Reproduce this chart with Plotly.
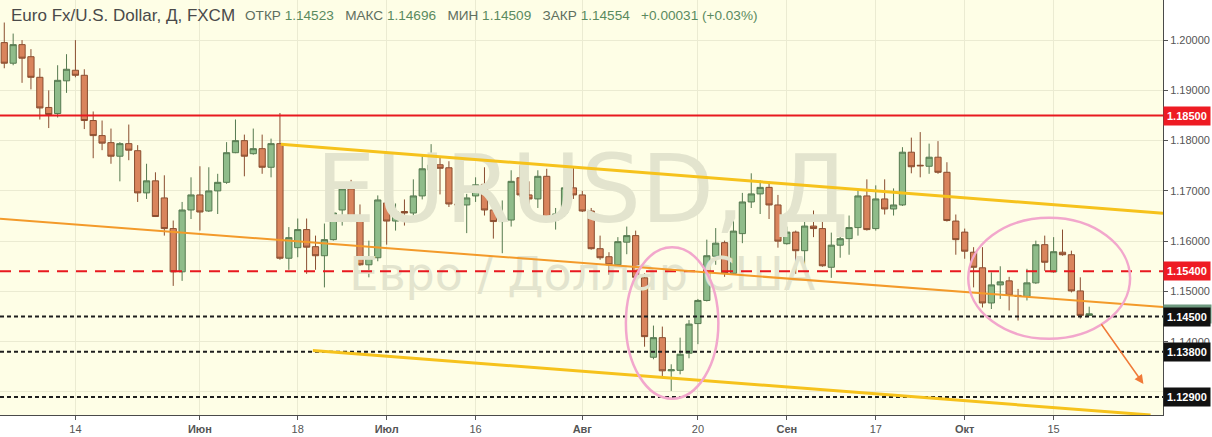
import plotly.graph_objects as go
import pandas as pd

# ---- data (EUR/USD daily, FXCM) ----
dates = [d.strftime("%Y-%m-%d") for d in pd.bdate_range("2018-05-02", "2018-10-19")]

opens = [1.1995, 1.1954, 1.1991, 1.1967, 1.1926, 1.1866, 1.1854, 1.1919, 1.1940, 1.1930,
         1.1840, 1.1810, 1.1796, 1.1769, 1.1794, 1.1780, 1.1696, 1.1720, 1.1686, 1.1625,
         1.1539, 1.1662, 1.1692, 1.1660, 1.1700, 1.1717, 1.1776, 1.1800, 1.1774, 1.1784,
         1.1747, 1.1794, 1.1566, 1.1587, 1.1623, 1.1589, 1.1571, 1.1603, 1.1662, 1.1704,
         1.1646, 1.1553, 1.1567, 1.1676, 1.1640, 1.1659, 1.1656, 1.1690, 1.1741, 1.1752,
         1.1746, 1.1674, 1.1672, 1.1690, 1.1713, 1.1662, 1.1639, 1.1642, 1.1726, 1.1692,
         1.1684, 1.1729, 1.1642, 1.1656, 1.1706, 1.1692, 1.1660, 1.1585, 1.1569, 1.1553,
         1.1598, 1.1611, 1.1527, 1.1369, 1.1408, 1.1342, 1.1343, 1.1377, 1.1436, 1.1482,
         1.1570, 1.1597, 1.1536, 1.1615, 1.1678, 1.1694, 1.1707, 1.1672, 1.1595, 1.1618,
         1.1581, 1.1630, 1.1625, 1.1548, 1.1592, 1.1605, 1.1627, 1.1690, 1.1625, 1.1684,
         1.1664, 1.1672, 1.1777, 1.1751, 1.1749, 1.1767, 1.1737, 1.1640, 1.1618, 1.1578,
         1.1547, 1.1477, 1.1513, 1.1521, 1.1492, 1.1490, 1.1517, 1.1593, 1.1539, 1.1578,
         1.1573, 1.1501, 1.14523]
highs = [1.2035, 1.2013, 1.2000, 1.1982, 1.1944, 1.1900, 1.1950, 1.1972, 1.2000, 1.1942,
         1.1858, 1.1840, 1.1824, 1.1797, 1.1832, 1.1791, 1.1754, 1.1737, 1.1731, 1.1641,
         1.1678, 1.1727, 1.1749, 1.1747, 1.1734, 1.1797, 1.1842, 1.1812, 1.1824, 1.1812,
         1.1804, 1.1855, 1.1628, 1.1645, 1.1645, 1.1611, 1.1635, 1.1678, 1.1715, 1.1722,
         1.1673, 1.1601, 1.1691, 1.1691, 1.1675, 1.1683, 1.1723, 1.1771, 1.1793, 1.1766,
         1.1759, 1.1697, 1.1694, 1.1727, 1.1747, 1.1668, 1.1681, 1.1741, 1.1751, 1.1719,
         1.1741, 1.1744, 1.1666, 1.1721, 1.1747, 1.1700, 1.1666, 1.1611, 1.1578, 1.1608,
         1.1629, 1.1621, 1.1536, 1.1432, 1.1430, 1.1355, 1.1408, 1.1443, 1.1485, 1.1603,
         1.1626, 1.1601, 1.1641, 1.1696, 1.1735, 1.1721, 1.1719, 1.1692, 1.1629, 1.1621,
         1.1641, 1.1661, 1.1649, 1.1617, 1.1646, 1.1651, 1.1701, 1.1723, 1.1711, 1.1723,
         1.1705, 1.1787, 1.1806, 1.1817, 1.1794, 1.1799, 1.1757, 1.1653, 1.1625, 1.1588,
         1.1588, 1.1538, 1.1550, 1.1529, 1.1505, 1.1545, 1.1601, 1.1611, 1.1608, 1.1623,
         1.1581, 1.1528, 1.14696]
lows = [1.1944, 1.1950, 1.1915, 1.1902, 1.1842, 1.1825, 1.1846, 1.1895, 1.1926, 1.1823,
        1.1765, 1.1781, 1.1754, 1.1719, 1.1761, 1.1678, 1.1684, 1.1648, 1.1611, 1.1511,
        1.1521, 1.1644, 1.1621, 1.1658, 1.1654, 1.1714, 1.1775, 1.1729, 1.1772, 1.1734,
        1.1727, 1.1563, 1.1543, 1.1568, 1.1535, 1.1543, 1.1508, 1.1601, 1.1631, 1.1638,
        1.1551, 1.1528, 1.1560, 1.1593, 1.1621, 1.1631, 1.1651, 1.1683, 1.1735, 1.1693,
        1.1668, 1.1651, 1.1616, 1.1678, 1.1651, 1.1605, 1.1576, 1.1629, 1.1688, 1.1658,
        1.1666, 1.1640, 1.1623, 1.1649, 1.1684, 1.1658, 1.1583, 1.1563, 1.1533, 1.1551,
        1.1574, 1.1526, 1.1390, 1.1365, 1.1330, 1.1302, 1.1335, 1.1367, 1.1395, 1.1480,
        1.1553, 1.1529, 1.1534, 1.1596, 1.1666, 1.1654, 1.1644, 1.1587, 1.1593, 1.1535,
        1.1548, 1.1608, 1.1549, 1.1527, 1.1567, 1.1573, 1.1611, 1.1621, 1.1621, 1.1653,
        1.1651, 1.1670, 1.1735, 1.1727, 1.1734, 1.1734, 1.1639, 1.1573, 1.1565, 1.1508,
        1.1468, 1.1465, 1.1485, 1.1462, 1.1442, 1.1482, 1.1515, 1.1541, 1.1537, 1.1571,
        1.1498, 1.1446, 1.14509]
closes = [1.1954, 1.1991, 1.1964, 1.1926, 1.1865, 1.1852, 1.1920, 1.1942, 1.1930, 1.1840,
          1.1810, 1.1795, 1.1769, 1.1794, 1.1781, 1.1696, 1.1720, 1.1649, 1.1625, 1.1539,
          1.1662, 1.1692, 1.1658, 1.1700, 1.1717, 1.1776, 1.1800, 1.1769, 1.1784, 1.1747,
          1.1794, 1.1566, 1.1607, 1.1623, 1.1588, 1.1571, 1.1603, 1.1656, 1.1704, 1.1646,
          1.1553, 1.1567, 1.1682, 1.1640, 1.1658, 1.1656, 1.1690, 1.1744, 1.1752, 1.1745,
          1.1674, 1.1672, 1.1686, 1.1712, 1.1662, 1.1639, 1.1642, 1.1719, 1.1692, 1.1684,
          1.1729, 1.1642, 1.1654, 1.1706, 1.1692, 1.1660, 1.1585, 1.1567, 1.1553, 1.1599,
          1.1611, 1.1528, 1.1410, 1.1408, 1.1342, 1.1344, 1.1375, 1.1435, 1.1482, 1.1571,
          1.1596, 1.1536, 1.1620, 1.1678, 1.1694, 1.1707, 1.1672, 1.1600, 1.1618, 1.1581,
          1.1630, 1.1625, 1.1551, 1.1592, 1.1605, 1.1627, 1.1690, 1.1623, 1.1684, 1.1664,
          1.1672, 1.1777, 1.1748, 1.1750, 1.1767, 1.1737, 1.1641, 1.1603, 1.1580, 1.1548,
          1.1477, 1.1513, 1.1519, 1.1492, 1.1490, 1.1517, 1.1593, 1.1558, 1.1579, 1.1573,
          1.1501, 1.14523, 1.14554]

# x-axis tick labels (category index -> label)
tick_idx = [8, 22, 33, 43, 53, 65, 78, 88, 98, 108, 118]
tick_labels = ["14", "<b>Июн</b>", "18", "<b>Июл</b>", "16", "<b>Авг</b>",
               "20", "<b>Сен</b>", "17", "<b>Окт</b>", "15"]

# y-axis ticks
y_ticks = [1.13, 1.14, 1.15, 1.16, 1.17, 1.18, 1.19, 1.20]

# horizontal levels
level_red_solid = 1.185
level_red_dash = 1.154
levels_black = [1.145, 1.138, 1.129]

# trend lines: (x index, price) pairs
orange_line = [(-0.48, 1.16444), (130.3, 1.14689)]
gold_upper = [(31.1, 1.17926), (130.3, 1.16556)]
gold_lower = [(34.7, 1.13825), (128.9, 1.12541)]
ellipses = [((69.9, 80.3), (1.12866, 1.15878)), ((108.4, 126.6), (1.14057, 1.16464))]
arrow = ((123.25, 1.14376), (128.1, 1.13159))

# watermark positions (price level of each text line)
wm_big_y = 1.1686
wm_small_y = 1.1526

last_price = 1.14554

X_RANGE = [-0.48, 130.3]
Y_RANGE = [1.12541, 1.20798]

fig = go.Figure()

# watermark (drawn below candles)
fig.add_trace(go.Scatter(
    x=[dates[65], dates[65]], y=[wm_big_y, wm_small_y], mode="text",
    text=["EURUSD, Д", "Евро / Доллар США"],
    textfont=dict(family="DejaVu Sans", size=[95, 46], color="#e3e4ce"),
    hoverinfo="skip", showlegend=False))

fig.add_trace(go.Candlestick(
    x=dates, open=opens, high=highs, low=lows, close=closes,
    increasing=dict(fillcolor="#8fbc8a", line=dict(color="#567a50", width=1)),
    decreasing=dict(fillcolor="#d9845c", line=dict(color="#8a4e30", width=1)),
    whiskerwidth=0, hoverinfo="skip", showlegend=False))

shapes = []
shapes.append(dict(type="line", xref="paper", x0=0, x1=1, yref="y",
                   y0=level_red_solid, y1=level_red_solid,
                   line=dict(color="#e8191f", width=2), layer="above"))
shapes.append(dict(type="line", xref="paper", x0=0, x1=1, yref="y",
                   y0=level_red_dash, y1=level_red_dash,
                   line=dict(color="#e8191f", width=2, dash="11px,8px"), layer="above"))
for lv in levels_black:
    shapes.append(dict(type="line", xref="paper", x0=0, x1=1, yref="y", y0=lv, y1=lv,
                       line=dict(color="#1e1e1e", width=2, dash="4px,3px"), layer="above"))
shapes.append(dict(type="line", xref="x", yref="y",
                   x0=orange_line[0][0], y0=orange_line[0][1],
                   x1=orange_line[1][0], y1=orange_line[1][1],
                   line=dict(color="#f39a2a", width=2), layer="above"))
for ln in (gold_upper, gold_lower):
    shapes.append(dict(type="line", xref="x", yref="y",
                       x0=ln[0][0], y0=ln[0][1], x1=ln[1][0], y1=ln[1][1],
                       line=dict(color="#f6c21c", width=3), layer="above"))
for (xs, ys) in ellipses:
    shapes.append(dict(type="circle", xref="x", yref="y",
                       x0=xs[0], x1=xs[1], y0=ys[0], y1=ys[1],
                       line=dict(color="#f2a7cc", width=2.5), layer="above"))

annotations = []
# header
annotations.append(dict(xref="paper", yref="paper", x=9 / 1163, y=1 - 16 / 415,
                        xanchor="left", yanchor="middle", showarrow=False,
                        text="Euro Fx/U.S. Dollar, Д, FXCM",
                        font=dict(family="Liberation Sans", size=17, color="#4a4a4a")))
val_c = "#5a8a5f"
lab_c = "#5f6f5f"
hdr = (f"<span style='color:{lab_c}'>ОТКР</span> <span style='color:{val_c}'>1.14523</span>"
       f"   <span style='color:{lab_c}'>МАКС</span> <span style='color:{val_c}'>1.14696</span>"
       f"   <span style='color:{lab_c}'>МИН</span> <span style='color:{val_c}'>1.14509</span>"
       f"   <span style='color:{lab_c}'>ЗАКР</span> <span style='color:{val_c}'>1.14554</span>"
       f"   <span style='color:{val_c}'>+0.00031 (+0.03%)</span>")
annotations.append(dict(xref="paper", yref="paper", x=243 / 1163, y=1 - 16 / 415,
                        xanchor="left", yanchor="middle", showarrow=False, text=hdr,
                        font=dict(family="Liberation Sans", size=13.6, color=val_c)))

# price label boxes on the right axis
def price_box(y, bg, fg="white"):
    return dict(xref="paper", yref="y", x=1, y=y, xanchor="left", yanchor="middle",
                showarrow=False, text=f"<b>{y:.5f}</b>", bgcolor=bg,
                font=dict(family="Liberation Sans", size=11, color=fg),
                borderpad=3, xshift=0)

annotations.append(price_box(last_price, "#6f9a80"))
annotations.append(price_box(level_red_solid, "#ee1b23"))
annotations.append(price_box(level_red_dash, "#ee1b23"))
for lv in levels_black:
    annotations.append(price_box(lv, "#111111"))

# arrow
annotations.append(dict(xref="x", yref="y", axref="x", ayref="y",
                        x=arrow[1][0], y=arrow[1][1], ax=arrow[0][0], ay=arrow[0][1],
                        text="", showarrow=True, arrowhead=2, arrowsize=1.2,
                        arrowwidth=1.5, arrowcolor="#f07a38"))

fig.update_layout(
    width=1212, height=437,
    margin=dict(l=0, r=49, t=0, b=22),
    paper_bgcolor="white", plot_bgcolor="#fefee6",
    showlegend=False, boxgap=0.3, boxgroupgap=0,
    shapes=shapes, annotations=annotations,
    font=dict(family="Liberation Sans", size=11, color="#555555"),
    xaxis=dict(type="category", categoryorder="array", categoryarray=dates,
               range=X_RANGE, rangeslider=dict(visible=False),
               tickmode="array", tickvals=[dates[i] for i in tick_idx], ticktext=tick_labels,
               showgrid=True, gridcolor="#ebebd2", gridwidth=1,
               ticks="outside", ticklen=4, tickcolor="#555555",
               showline=True, linecolor="#4a4a4a", linewidth=1,
               tickfont=dict(family="Liberation Sans", size=11, color="#555555"),
               zeroline=False, fixedrange=True),
    yaxis=dict(side="right", range=Y_RANGE, tickmode="array", tickvals=y_ticks,
               ticktext=[f"{v:.5f}" for v in y_ticks],
               showgrid=True, gridcolor="#ebebd2", gridwidth=1,
               ticks="outside", ticklen=4, tickcolor="#555555",
               showline=True, linecolor="#4a4a4a", linewidth=1,
               tickfont=dict(family="Liberation Sans", size=11, color="#555555"),
               zeroline=False, fixedrange=True),
    hovermode=False,
)

fig.write_html("out.html", config={"displayModeBar": False},
               post_script="document.body.style.margin='0px';document.body.style.overflow='hidden';")
